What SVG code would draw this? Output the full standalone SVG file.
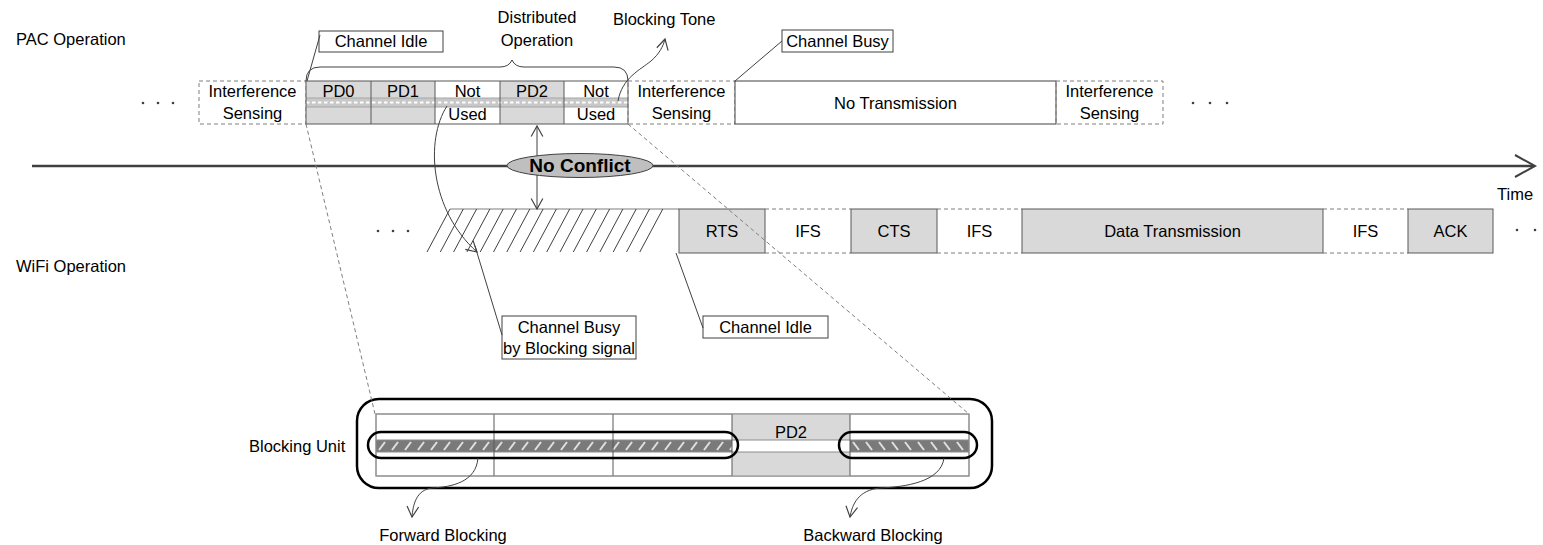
<svg xmlns="http://www.w3.org/2000/svg" width="1543" height="545" viewBox="0 0 1543 545">
<style>
text{font-family:"Liberation Sans",Arial,sans-serif;font-size:16.5px;fill:#000}
.c{text-anchor:middle}
.sb{stroke:#595959;stroke-width:1;fill:none}
.gf{fill:#d9d9d9}
.dash{stroke:#7f7f7f;stroke-width:1;stroke-dasharray:4 3;fill:none}
.lbl{fill:#fff;stroke:#404040;stroke-width:1}
.ln{stroke:#404040;stroke-width:1;fill:none}
.thick{stroke:#000;stroke-width:2.5;fill:none}
</style>
<defs>
<pattern id="tone" patternUnits="userSpaceOnUse" x="0" y="98" width="6" height="9">
<rect width="6" height="9" fill="#c8c8c8"/>
<rect x="0" y="3.5" width="3.5" height="2" fill="#fff"/>
</pattern>
<pattern id="fwd" patternUnits="userSpaceOnUse" x="376" y="440" width="13" height="12">
<rect width="13" height="12" fill="#7a7a7a"/>
<line x1="3" y1="10" x2="9" y2="2" stroke="#e0e0e0" stroke-width="2"/>
</pattern>
<pattern id="bwd" patternUnits="userSpaceOnUse" x="850" y="440" width="13" height="12">
<rect width="13" height="12" fill="#7a7a7a"/>
<line x1="3" y1="2" x2="9" y2="10" stroke="#e0e0e0" stroke-width="2"/>
</pattern>
<marker id="arr" markerUnits="userSpaceOnUse" markerWidth="14" markerHeight="14" refX="10" refY="6" orient="auto-start-reverse" viewBox="0 0 12 12">
<path d="M1,1 L10,6 L1,11" fill="none" stroke="#404040" stroke-width="1"/>
</marker>
</defs>

<!-- row labels -->
<text x="16" y="45">PAC Operation</text>
<text x="16" y="272">WiFi Operation</text>

<!-- dots -->
<g id="dots" fill="#404040">
<circle cx="143" cy="103" r="1.3"/><circle cx="158" cy="103" r="1.3"/><circle cx="173" cy="103" r="1.3"/>
<circle cx="1193" cy="103" r="1.3"/><circle cx="1210" cy="103" r="1.3"/><circle cx="1227" cy="103" r="1.3"/>
<circle cx="378" cy="231" r="1.3"/><circle cx="393" cy="231" r="1.3"/><circle cx="408" cy="231" r="1.3"/>
<circle cx="1517" cy="230" r="1.3"/><circle cx="1535" cy="230" r="1.3"/>
</g>

<!-- PAC row -->
<g id="is1"><rect x="199" y="81" width="107" height="43" class="dash"/><text x="252.5" y="97" class="c">Interference</text><text x="252.5" y="119" class="c">Sensing</text></g>
<g id="pd0"><rect x="306" y="81" width="65" height="43" class="gf"/><text x="338.5" y="97" class="c">PD0</text></g>
<g id="pd1"><rect x="371" y="81" width="64" height="43" class="gf"/><text x="403" y="97" class="c">PD1</text></g>
<g id="nu1"><rect x="435" y="81" width="65" height="43" fill="#fff"/><text x="467.5" y="97" class="c">Not</text><text x="467.5" y="120" class="c">Used</text></g>
<g id="pd2"><rect x="500" y="81" width="64" height="43" class="gf"/><text x="532" y="97" class="c">PD2</text></g>
<g id="nu2"><rect x="564" y="81" width="64" height="43" fill="#fff"/><text x="596" y="97" class="c">Not</text><text x="596" y="120" class="c">Used</text></g>
<g id="tonestrip">
<rect x="306" y="98" width="322" height="9" fill="url(#tone)"/>
<line x1="306" y1="98" x2="628" y2="98" stroke="#a6a6a6"/>
<line x1="306" y1="107" x2="628" y2="107" stroke="#a6a6a6"/>
</g>
<g id="pdcells" class="sb">
<rect x="306" y="81" width="322" height="43"/>
<line x1="371" y1="81" x2="371" y2="124"/><line x1="435" y1="81" x2="435" y2="124"/>
<line x1="500" y1="81" x2="500" y2="124"/><line x1="564" y1="81" x2="564" y2="124"/>
</g>
<g id="is2"><rect x="628" y="81" width="107" height="43" class="dash"/><text x="681.5" y="97" class="c">Interference</text><text x="681.5" y="119" class="c">Sensing</text></g>
<g id="notx"><rect x="735" y="81" width="321" height="43" fill="#fff" stroke="#404040"/><text x="895.5" y="109" class="c">No Transmission</text></g>
<g id="is3"><rect x="1056" y="81" width="107" height="43" class="dash"/><text x="1109.5" y="97" class="c">Interference</text><text x="1109.5" y="119" class="c">Sensing</text></g>

<!-- brace and labels -->
<g id="brace"><path d="M306,81 Q306,67 320,67 L500,67 Q509,67 512,60 Q515,67 524,67 L614,67 Q628,67 628,81" class="ln"/></g>
<g id="distop"><text x="537" y="23" class="c">Distributed</text><text x="537" y="46" class="c">Operation</text></g>
<g id="tonelbl"><text x="613" y="25">Blocking Tone</text></g>
<g id="idle1"><rect x="319" y="31" width="124" height="21" class="lbl"/><text x="381" y="47" class="c">Channel Idle</text></g>
<g id="busy1"><rect x="782" y="30" width="111" height="22" class="lbl"/><text x="837.5" y="47" class="c">Channel Busy</text></g>

<!-- WiFi row -->
<g id="hatch" stroke="#404040" stroke-width="1">
<line x1="450" y1="209" x2="679" y2="209" stroke="#7f7f7f"/>
<path d="M427,252 L450,209 M440.3,252 L463.3,209 M453.6,252 L476.6,209 M466.9,252 L489.9,209 M480.2,252 L503.2,209 M493.5,252 L516.5,209 M506.8,252 L529.8,209 M520.1,252 L543.1,209 M533.4,252 L556.4,209 M546.7,252 L569.7,209 M560,252 L583,209 M573.3,252 L596.3,209 M586.6,252 L609.6,209 M599.9,252 L622.9,209 M613.2,252 L636.2,209 M626.5,252 L649.5,209 M639.8,252 L662.8,209"/>
</g>
<g id="rts"><rect x="679" y="209" width="86" height="44" class="gf" stroke="#595959"/><text x="722" y="237" class="c">RTS</text></g>
<g id="ifs1"><path d="M765,209 H851 M765,253 H851" class="dash"/><text x="808" y="237" class="c">IFS</text></g>
<g id="cts"><rect x="851" y="209" width="86" height="44" class="gf" stroke="#595959"/><text x="894" y="237" class="c">CTS</text></g>
<g id="ifs2"><path d="M937,209 H1022 M937,253 H1022" class="dash"/><text x="979.5" y="237" class="c">IFS</text></g>
<g id="data"><rect x="1022" y="209" width="301" height="44" class="gf" stroke="#595959"/><text x="1172.5" y="237" class="c">Data Transmission</text></g>
<g id="ifs3"><path d="M1323,209 H1408 M1323,253 H1408" class="dash"/><text x="1365.5" y="237" class="c">IFS</text></g>
<g id="ack"><rect x="1408" y="209" width="85" height="44" class="gf" stroke="#595959"/><text x="1450.5" y="237" class="c">ACK</text></g>

<g id="busy2"><rect x="502" y="316" width="134" height="43" class="lbl"/><text x="569" y="333" class="c">Channel Busy</text><text x="569" y="354" class="c">by Blocking signal</text></g>
<g id="idle2"><rect x="703" y="316" width="125" height="22" class="lbl"/><text x="765.5" y="333" class="c">Channel Idle</text></g>

<!-- blocking unit -->
<g id="blockunit">
<text x="249" y="452">Blocking Unit</text>
<rect x="376" y="414" width="593" height="62" fill="#fff" stroke="#8c8c8c"/>
<rect x="732" y="414" width="118" height="62" class="gf"/>
<rect x="732" y="440" width="118" height="12" fill="#fff"/>
<rect x="376" y="440" width="356" height="12" fill="url(#fwd)"/>
<rect x="850" y="440" width="119" height="12" fill="url(#bwd)"/>
<path d="M376,440 H969 M376,452 H969" stroke="#8c8c8c" fill="none"/>
<path d="M494,414 V476 M613,414 V476 M732,414 V476 M850,414 V476" stroke="#595959" fill="none"/>
<rect x="376" y="414" width="593" height="62" fill="none" stroke="#8c8c8c"/>
<text x="791" y="438" class="c">PD2</text>
<rect x="357" y="399" width="635" height="89" rx="22" class="thick"/>
</g>
<g id="fwdcap"><rect x="368" y="432" width="370" height="26" rx="13" class="thick"/><text x="443" y="541" class="c">Forward Blocking</text></g>
<g id="bwdcap"><rect x="839" y="432" width="138" height="26" rx="13" class="thick"/><text x="873" y="541" class="c">Backward Blocking</text></g>

<!-- connectors -->
<g id="connectors">
<path d="M32,166 H1533" stroke="#404040" stroke-width="2.5" fill="none"/>
<polyline points="1515,155 1535,166 1515,177" stroke="#404040" stroke-width="2" fill="none"/>
<line x1="537" y1="126" x2="537" y2="209" class="ln" marker-start="url(#arr)" marker-end="url(#arr)"/>
<path d="M307,81 L320,35" class="ln"/>
<path d="M735,81 L782,41" class="ln"/>
<path d="M618,101 C622,78 640,70 651,61 C659,54 663,47 665,39" class="ln" marker-end="url(#arr)"/>
<path d="M447,106 C425,140 430,210 477,252" class="ln" marker-end="url(#arr)"/>
<path d="M502,335 L475,246" class="ln"/>
<path d="M703,328 L676,253" class="ln"/>
<path d="M306,124 L375,414" class="dash" stroke-dasharray="5 3"/>
<path d="M628,124 L969,414" class="dash" stroke-dasharray="5 3"/>
<path d="M478,458 C476,482 452,487 432,488 C416,490 413,505 412,517" class="ln" marker-end="url(#arr)"/>
<path d="M944,458 C941,482 905,487 880,488 C858,490 852,505 850,517" class="ln" marker-end="url(#arr)"/>
</g>

<g id="noconflict">
<ellipse cx="580" cy="165.5" rx="73" ry="12" fill="#bfbfbf" stroke="#404040"/>
<text x="580" y="172" class="c" style="font-weight:bold;font-size:19px">No Conflict</text>
</g>
<text x="1497" y="200">Time</text>
</svg>
